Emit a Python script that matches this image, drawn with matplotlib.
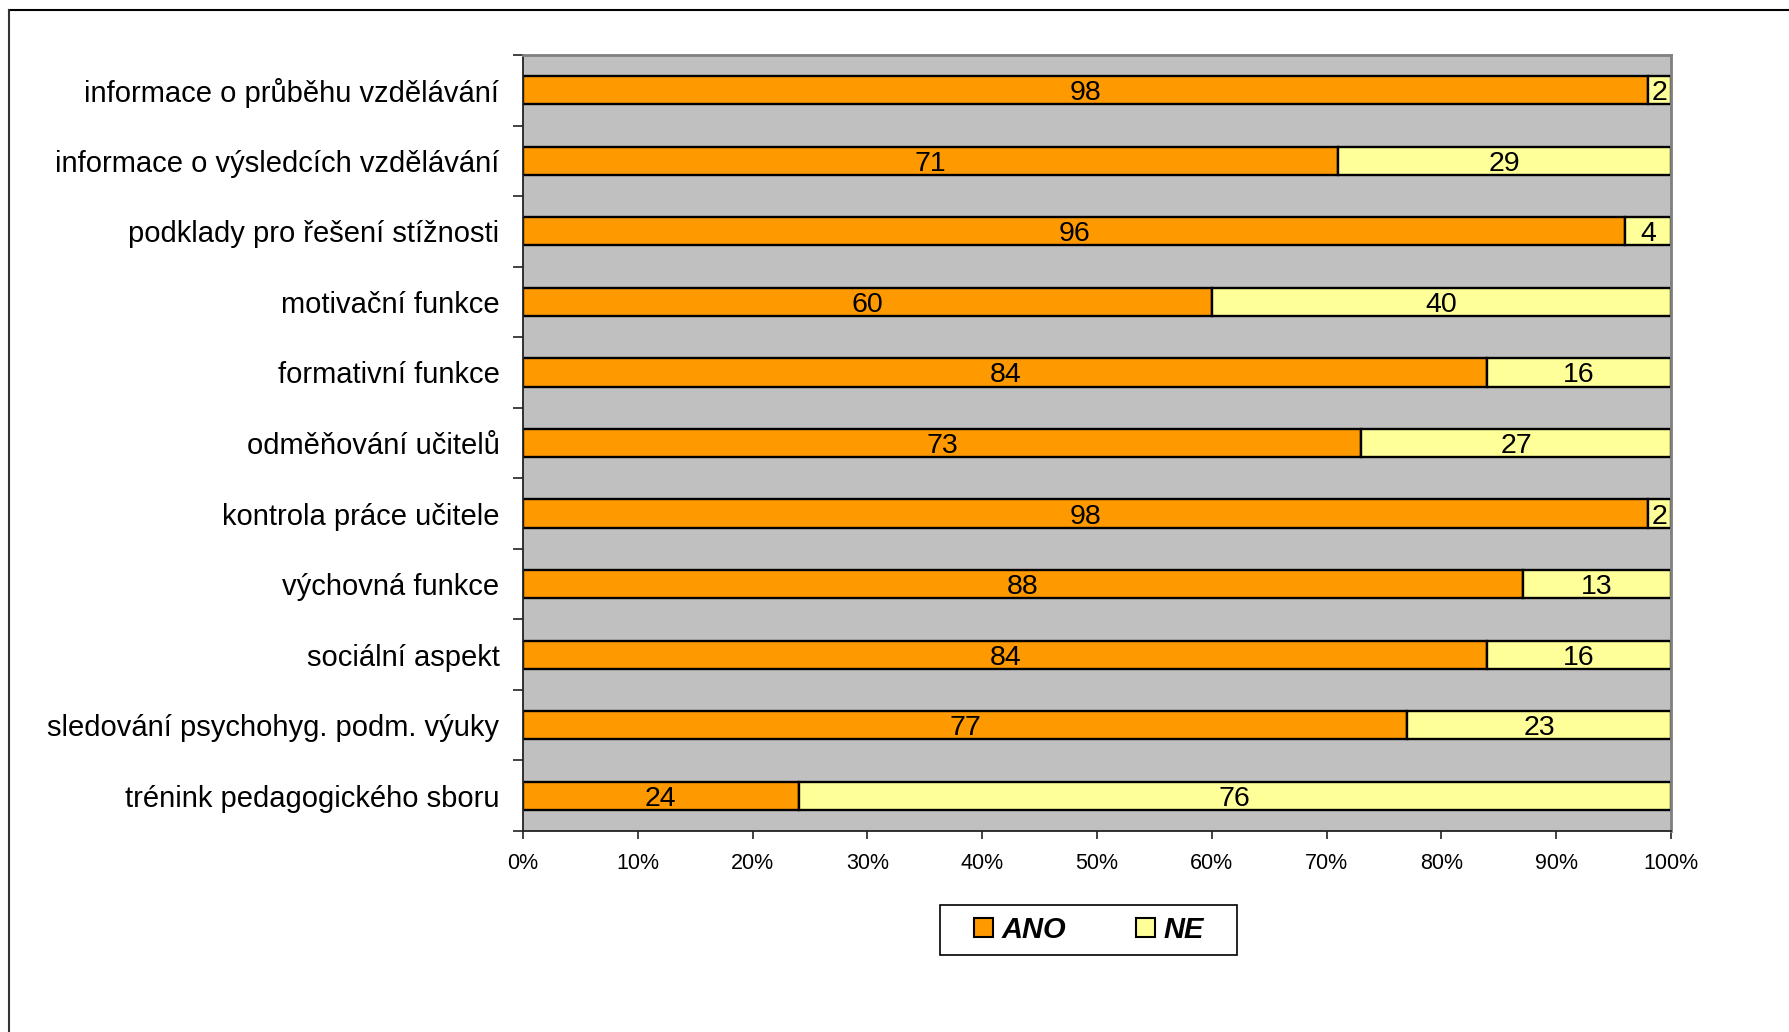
import matplotlib
matplotlib.use("Agg")
import matplotlib.pyplot as plt
from matplotlib.lines import Line2D
from matplotlib.patches import Patch, Rectangle
import numpy as np

plt.rcParams['font.family'] = ['Liberation Sans', 'DejaVu Sans']

categories = [
    "informace o průběhu vzdělávání",
    "informace o výsledcích vzdělávání",
    "podklady pro řešení stížnosti",
    "motivační funkce",
    "formativní funkce",
    "odměňování učitelů",
    "kontrola práce učitele",
    "výchovná funkce",
    "sociální aspekt",
    "sledování psychohyg. podm. výuky",
    "trénink pedagogického sboru",
]
ano = [98, 71, 96, 60, 84, 73, 98, 88, 84, 77, 24]
ne = [2, 29, 4, 40, 16, 27, 2, 13, 16, 23, 76]
series_names = ["ANO", "NE"]
x_ticks = [0, 10, 20, 30, 40, 50, 60, 70, 80, 90, 100]

ano_arr = np.array(ano, dtype=float)
ne_arr = np.array(ne, dtype=float)
total = ano_arr + ne_arr
ano_pct = ano_arr / total * 100
ne_pct = ne_arr / total * 100

W, H = 1789, 1032
fig = plt.figure(figsize=(W / 100, H / 100), dpi=100)
ax = fig.add_axes([523 / W, 1 - 831 / H, (1671 - 523) / W, (831 - 55) / H])
ax.set_facecolor("#C0C0C0")

y = np.arange(len(categories))
bar_h = 0.4
c1 = ax.barh(y, ano_pct, height=bar_h, color="#FF9900", edgecolor="black",
             linewidth=1.7, label=series_names[0])
c2 = ax.barh(y, ne_pct, left=ano_pct, height=bar_h, color="#FFFF99",
             edgecolor="black", linewidth=1.7, label=series_names[1])
value_texts = ax.bar_label(c1, labels=[str(v) for v in ano],
                           label_type="center", fontsize=20.5)
value_texts += ax.bar_label(c2, labels=[str(v) for v in ne],
                            label_type="center", fontsize=20.5)
for t in value_texts:
    t.set_verticalalignment("center_baseline")

ax.set_xlim(0, 100)
ax.set_ylim(len(categories) - 0.5, -0.5)

ax.set_yticks(y)
ax.set_yticklabels(categories, fontsize=21)
ax.tick_params(axis="y", which="major", length=0, pad=17)
ax.set_yticks(np.arange(-0.5, len(categories), 1.0), minor=True)
ax.tick_params(axis="y", which="minor", length=7, width=1.2, direction="out",
               color="#222222")

ax.set_xticks(x_ticks)
ax.set_xticklabels([f"{v}%" for v in x_ticks], fontsize=15.5)
ax.tick_params(axis="x", length=6, width=1.2, direction="out", pad=10,
               color="#222222")

for side in ("left", "bottom"):
    ax.spines[side].set_color("#222222")
    ax.spines[side].set_linewidth(1.3)
for side in ("top", "right"):
    ax.spines[side].set_color("#808080")
    ax.spines[side].set_linewidth(2.0)

handles = [
    Patch(facecolor="#FF9900", edgecolor="black", linewidth=1.5),
    Patch(facecolor="#FFFF99", edgecolor="black", linewidth=1.5),
]
leg = fig.legend(handles, series_names, loc="center",
                 bbox_to_anchor=(1089 / W, 1 - 930 / H), ncol=2,
                 prop={"family": "Liberation Sans", "weight": "bold",
                       "style": "italic", "size": 21},
                 frameon=False, handlelength=0.65,
                 handleheight=0.65, handletextpad=0.3, columnspacing=2.4,
                 borderpad=0.3)

# legend box
fig.add_artist(Rectangle((940 / W, 1 - 955 / H), (1237 - 940) / W, 50 / H,
                         transform=fig.transFigure, facecolor="none",
                         edgecolor="black", linewidth=1.2, zorder=0))

# outer chart frame (top and left edges)
fig.add_artist(Line2D([9 / W, 1.0], [1 - 9.5 / H, 1 - 9.5 / H],
                      transform=fig.transFigure, color="black", linewidth=1.5))
fig.add_artist(Line2D([9 / W, 9 / W], [0.0, 1 - 9.5 / H],
                      transform=fig.transFigure, color="#333333", linewidth=1.5))

fig.savefig("out.png", dpi=100)
